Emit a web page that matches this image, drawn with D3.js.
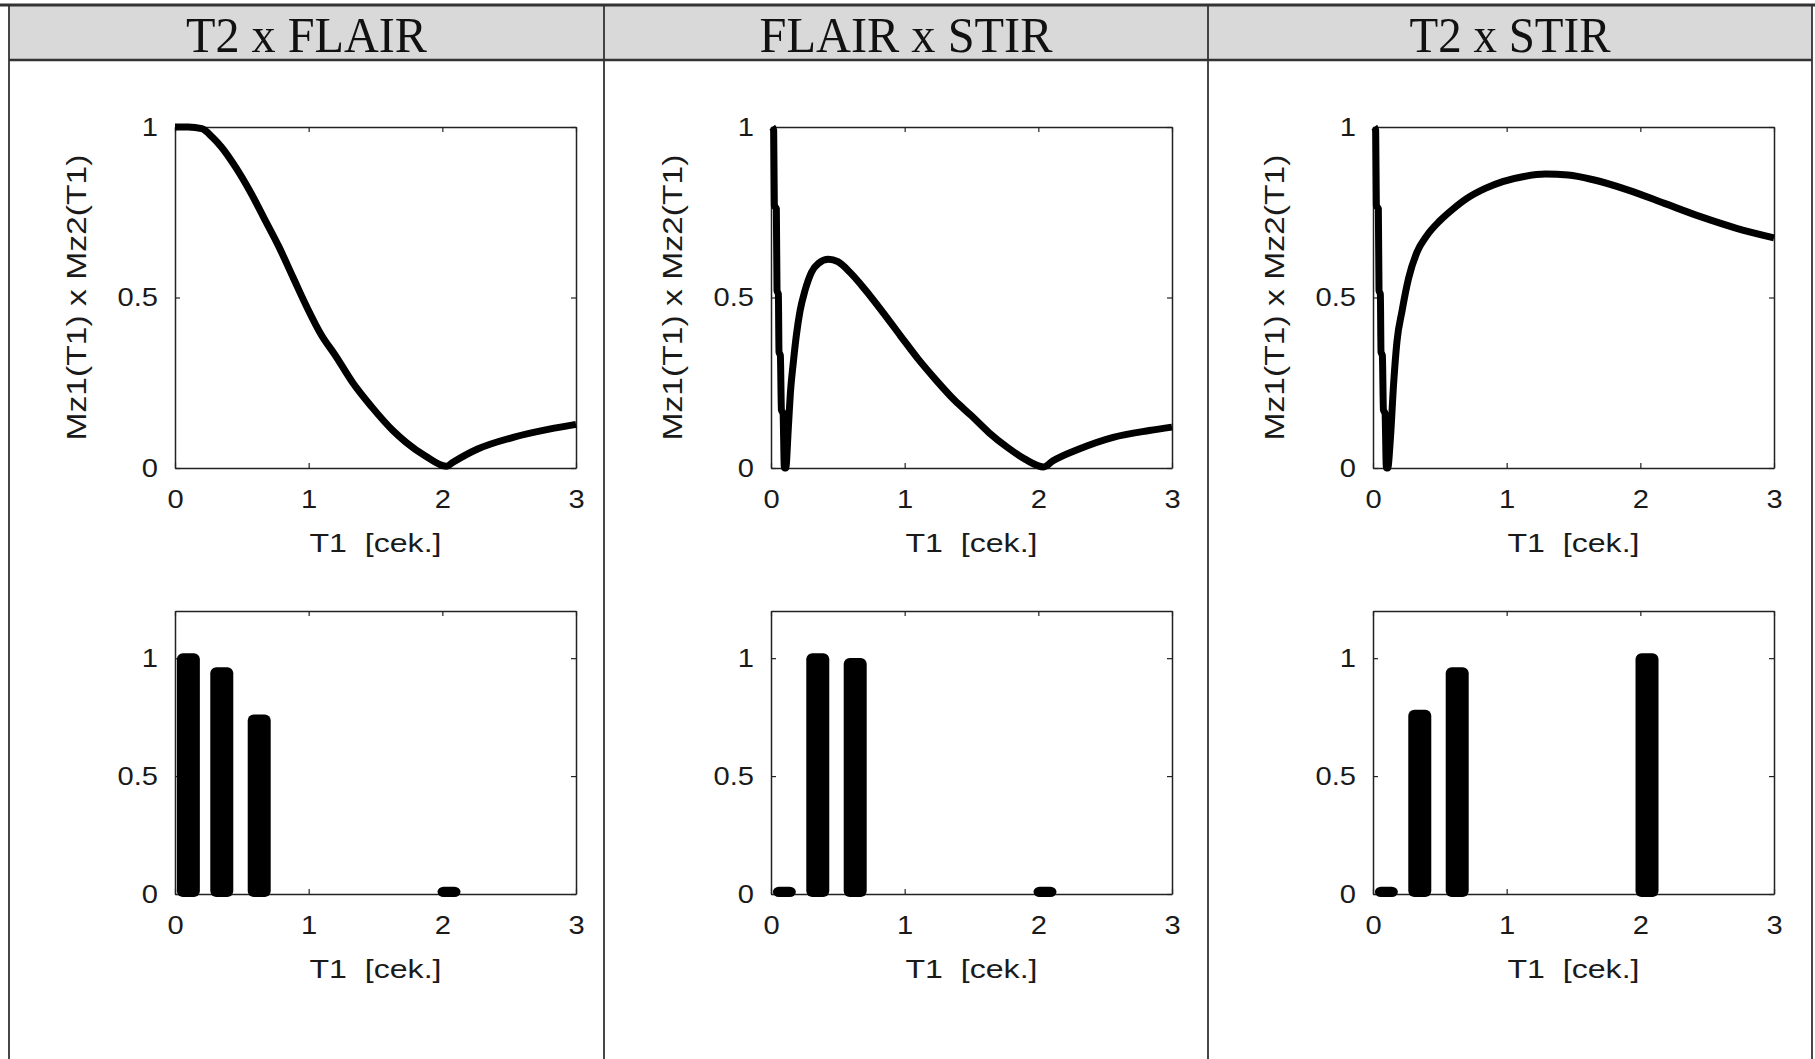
<!DOCTYPE html>
<html lang="en">
<head>
    <meta charset="UTF-8">
    <title>Mz1 x Mz2</title>
    <style>
        body { margin: 0; background: #fff; }
    </style>
</head>
<body>
<div id="chart"></div>
<script src="https://cdn.jsdelivr.net/npm/d3@7"></script>
<script>
    // column titles
    const panels = ["T2 x FLAIR", "FLAIR x STIR", "T2 x STIR"];
    const panelTextWidth = [241, 293, 201];

    const xTicks = [0, 1, 2, 3];
    const yTicks = [0, 0.5, 1];

    // top row: [T1, Mz1*Mz2]
    const curveT2Flair = [
        [0, 1], [0.1, 1], [0.2, 0.995], [0.28, 0.97], [0.35, 0.94], [0.457, 0.88], [0.563, 0.81],
        [0.67, 0.73], [0.776, 0.65], [0.882, 0.56], [0.989, 0.47], [1.095, 0.39], [1.2, 0.33],
        [1.33, 0.25], [1.47, 0.18], [1.63, 0.11], [1.73, 0.075], [1.87, 0.036], [2.03, 0.005],
        [2.08, 0.017], [2.26, 0.055], [2.53, 0.09], [2.8, 0.114], [3.0, 0.128]
    ];
    const curveFlairStir = [
        [0.01, 1.0], [0.02, 0.99], [0.025, 0.77], [0.04, 0.76], [0.045, 0.52], [0.055, 0.51],
        [0.06, 0.34], [0.07, 0.33], [0.078, 0.17], [0.09, 0.16], [0.1, 0.0], [0.11, 0.0],
        [0.13, 0.12], [0.145, 0.22], [0.167, 0.31], [0.19, 0.39], [0.217, 0.46], [0.254, 0.52],
        [0.304, 0.575], [0.354, 0.6], [0.43, 0.612], [0.5, 0.605], [0.6, 0.57], [0.7, 0.525],
        [0.84, 0.455], [0.97, 0.387], [1.1, 0.32], [1.23, 0.26], [1.37, 0.2], [1.5, 0.153],
        [1.63, 0.104], [1.77, 0.06], [1.9, 0.026], [2.04, 0.003], [2.11, 0.021], [2.3, 0.055],
        [2.56, 0.09], [2.83, 0.11], [3.0, 0.12]
    ];
    const curveT2Stir = [
        [0.01, 1.0], [0.02, 0.99], [0.025, 0.77], [0.04, 0.76], [0.045, 0.52], [0.055, 0.51],
        [0.06, 0.34], [0.07, 0.33], [0.078, 0.17], [0.09, 0.16], [0.1, 0.0], [0.11, 0.0],
        [0.13, 0.085], [0.154, 0.246], [0.179, 0.37], [0.217, 0.46], [0.266, 0.556], [0.33, 0.634],
        [0.4, 0.68], [0.5, 0.725], [0.6, 0.76], [0.7, 0.79], [0.84, 0.82], [0.97, 0.84],
        [1.13, 0.855], [1.29, 0.862], [1.46, 0.859], [1.64, 0.846], [1.91, 0.815], [2.18, 0.776],
        [2.45, 0.737], [2.72, 0.703], [3.0, 0.675]
    ];

    // bottom row: value at each tissue T1
    const barT1 = [0.1, 0.35, 0.63, 2.05];
    const barT2Flair = [1.0, 0.94, 0.74, 0.01];
    const barFlairStir = [0.01, 1.0, 0.98, 0.01];
    const barT2Stir = [0.01, 0.76, 0.94, 1.0];

    const curves = [curveT2Flair, curveFlairStir, curveT2Stir];
    const bars = [barT2Flair, barFlairStir, barT2Stir];

    const width = 1815,
        height = 1059;
    const colX = [9, 604, 1208, 1812];
    const plotLeft = [175, 771, 1373],
        plotW = 401;
    const rowTop = {"y0": 127, "y1": 468},
        rowBottom = {"y0": 611, "y1": 894};

    const svg = d3.select("#chart")
        .append("svg")
        .attr("width", width)
        .attr("height", height)
        .style("display", "block")
        .style("background-color", "#fff");

    // table frame and header
    svg.append("rect")
        .attr("x", colX[0]).attr("y", 6)
        .attr("width", colX[3] - colX[0]).attr("height", 54)
        .style("fill", "#d9d9d9");

    svg.append("line")
        .attr("x1", 0).attr("x2", width).attr("y1", 5).attr("y2", 5)
        .style("stroke", "#333").style("stroke-width", 3);
    svg.append("line")
        .attr("x1", colX[0]).attr("x2", colX[3]).attr("y1", 60).attr("y2", 60)
        .style("stroke", "#333").style("stroke-width", 2.5);

    svg.selectAll("line.col")
        .data(colX)
        .join("line")
        .classed("col", true)
        .attr("x1", d => d).attr("x2", d => d)
        .attr("y1", 5).attr("y2", height)
        .style("stroke", "#333")
        .style("stroke-width", 1.8);

    svg.selectAll("text.head")
        .data(panels)
        .join("text")
        .classed("head", true)
        .attr("x", (d, i) => (colX[i] + colX[i + 1]) / 2)
        .attr("y", 52)
        .attr("text-anchor", "middle")
        .attr("textLength", (d, i) => panelTextWidth[i])
        .attr("lengthAdjust", "spacingAndGlyphs")
        .style("font-family", "'Liberation Serif', 'DejaVu Serif', serif")
        .style("font-size", "51px")
        .style("fill", "#111")
        .text(d => d);

    // widen sans text a bit, like the stretched plot images
    function stretch(sel, k) {
        sel.each(function() {
            const w = this.getComputedTextLength();
            d3.select(this)
                .attr("textLength", w * k)
                .attr("lengthAdjust", "spacingAndGlyphs");
        });
    }

    function frame(g, xScale, yScale, y0, y1, x0, x1, yTickVals) {
        const tick = 5;
        const fmt = d3.format("~g");
        const styleAxis = a => {
            a.selectAll("path.domain").style("stroke", "#222").style("stroke-width", 1.5);
            a.selectAll(".tick line").style("stroke", "#222").style("stroke-width", 1.2);
            a.selectAll("text")
                .style("font-family", "'Liberation Sans', Arial, sans-serif")
                .style("font-size", "26px")
                .style("fill", "#1a1a1a");
        };

        g.append("g")
            .attr("transform", `translate(0,${y1})`)
            .call(d3.axisBottom(xScale).tickValues(xTicks).tickFormat(fmt)
                .tickSizeInner(-tick).tickSizeOuter(0).tickPadding(22))
            .call(styleAxis)
            .call(a => stretch(a.selectAll("text"), 1.12));

        g.append("g")
            .attr("transform", `translate(0,${y0})`)
            .call(d3.axisTop(xScale).tickValues(xTicks).tickSizeInner(-tick).tickSizeOuter(0).tickFormat(""))
            .call(styleAxis);

        g.append("g")
            .attr("transform", `translate(${x0},0)`)
            .call(d3.axisLeft(yScale).tickValues(yTickVals).tickFormat(fmt)
                .tickSizeInner(-tick).tickSizeOuter(0).tickPadding(17))
            .call(styleAxis)
            .call(a => stretch(a.selectAll("text"), 1.12));

        g.append("g")
            .attr("transform", `translate(${x1},0)`)
            .call(d3.axisRight(yScale).tickValues(yTickVals).tickSizeInner(-tick).tickSizeOuter(0).tickFormat(""))
            .call(styleAxis);

        g.append("text")
            .attr("x", (x0 + x1) / 2)
            .attr("y", y1 + 84)
            .attr("text-anchor", "middle")
            .attr("textLength", 132)
            .attr("lengthAdjust", "spacingAndGlyphs")
            .style("white-space", "pre")
            .style("font-family", "'Liberation Sans', Arial, sans-serif")
            .style("font-size", "26px")
            .style("fill", "#1a1a1a")
            .text("T1  [cek.]");
    }

    const line = d3.line().curve(d3.curveMonotoneX);

    panels.forEach((name, i) => {
        const x0 = plotLeft[i], x1 = plotLeft[i] + plotW;
        const xScale = d3.scaleLinear().domain([0, 3]).range([x0, x1]);

        // top: curve
        const yTop = d3.scaleLinear().domain([0, 1]).range([rowTop.y1, rowTop.y0]);
        const gt = svg.append("g").classed("top", true);
        frame(gt, xScale, yTop, rowTop.y0, rowTop.y1, x0, x1, yTicks);

        gt.append("text")
            .attr("transform", `translate(${x0 - 89},${(rowTop.y0 + rowTop.y1) / 2}) rotate(-90)`)
            .attr("text-anchor", "middle")
            .attr("textLength", 286)
            .attr("lengthAdjust", "spacingAndGlyphs")
            .style("font-family", "'Liberation Sans', Arial, sans-serif")
            .style("font-size", "27px")
            .style("fill", "#1a1a1a")
            .text("Mz1(T1) x Mz2(T1)");

        gt.append("path")
            .datum(curves[i])
            .attr("d", line.x(d => xScale(d[0])).y(d => yTop(d[1])))
            .style("fill", "none")
            .style("stroke", "#000")
            .style("stroke-width", 7)
            .style("stroke-linejoin", "round");

        // bottom: bars
        const yBot = d3.scaleLinear().domain([0, 1.2]).range([rowBottom.y1, rowBottom.y0]);
        const gb = svg.append("g").classed("bottom", true);
        frame(gb, xScale, yBot, rowBottom.y0, rowBottom.y1, x0, x1, yTicks);

        const bw = 23;
        gb.selectAll("rect.bar")
            .data(barT1.map((t, j) => ({"t": t, "v": bars[i][j]})))
            .join("rect")
            .classed("bar", true)
            .attr("x", d => xScale(d.t) - bw / 2)
            .attr("y", d => yBot(d.v) - 5)
            .attr("width", bw)
            .attr("height", d => yBot(0) + 3 - (yBot(d.v) - 5))
            .attr("rx", 6)
            .style("fill", "#000");
    });
</script>
</body>
</html>
